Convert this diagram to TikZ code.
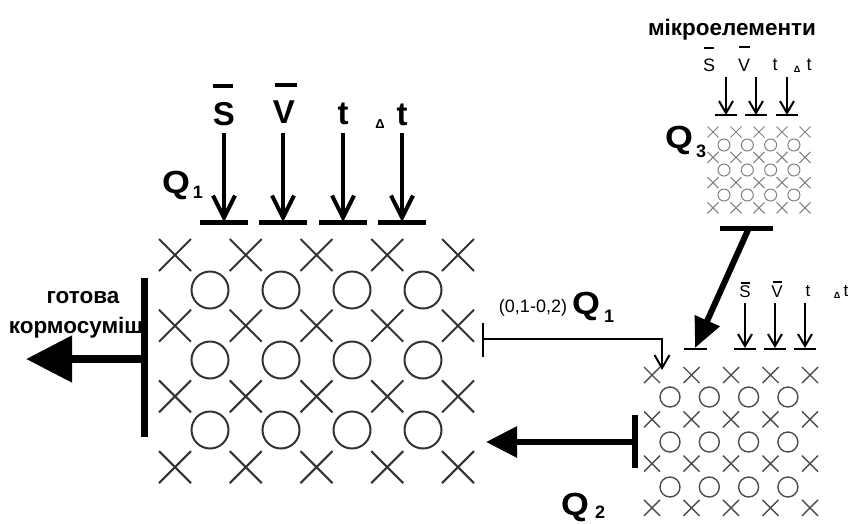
\documentclass[tikz,border=0pt]{standalone}
\usepackage{fontspec}
\usepackage{graphicx}
\setmainfont{Liberation Sans}
\usetikzlibrary{arrows.meta}
\newcommand{\myfs}[1]{\fontsize{#1}{#1}\selectfont}
\newcommand{\wideQ}{\scalebox{1.12}[1]{Q}}
\begin{document}
\begin{tikzpicture}[x=1pt,y=-1pt,
  bigx/.style={line width=2pt, draw=black!80},
  midx/.style={line width=1.4pt, draw=black!70},
  smx/.style={line width=1pt, draw=black!50},
  lbl/.style={inner sep=0pt, anchor=base},
  bigl/.style={lbl, font=\myfs{33}\bfseries},
  qf/.style={lbl, font=\myfs{32}\bfseries},
  subf/.style={lbl, font=\myfs{18}\bfseries},
  word/.style={lbl, font=\myfs{22.5}\bfseries},
  downbig/.style={line width=4pt, -{Straight Barb[length=22pt,width=22pt]}},
  downsm/.style={line width=2pt, -{Straight Barb[length=12pt,width=14pt]}},
  thickbar/.style={line width=5pt},
  thinbar/.style={line width=2pt},
  ]
\useasboundingbox (0,0) rectangle (851,523);

% ---------- big grid ----------
\foreach \c in {0,...,4}{\foreach \r in {0,...,3}{
  \pgfmathsetmacro\xx{175+70.75*\c}\pgfmathsetmacro\yy{255+70.7*\r}
  \draw[bigx] (\xx-16,\yy-16) -- ++(32,32) (\xx-16,\yy+16) -- ++(32,-32);}}
\foreach \c in {0,...,3}{\foreach \r in {0,...,2}{
  \pgfmathsetmacro\xx{210+71*\c}\pgfmathsetmacro\yy{290+70*\r}
  \draw[bigx] (\xx,\yy) circle[radius=18.5pt];}}

% top inputs of big grid
\node[bigl] (S1) at (224,125) {S};
\node[bigl] (V1) at (284,123) {V};
\node[bigl] (t1) at (343,124) {t};
\node[lbl, font=\myfs{13}\bfseries] (D1) at (380,128) {Δ};
\node[bigl] (tt1) at (402,125) {t};
\draw[line width=4pt] (213,86) -- (233,86);
\draw[line width=4pt] (275,85) -- (297,85);
\foreach \x/\n in {224/a,283/b,343/c,402/d}{
  \coordinate (top\n) at (\x,133);
  \coordinate (bar\n) at (\x,222);
  \draw[downbig] (top\n) -- (bar\n);
  \draw[thickbar] (\x-24,222) -- (\x+24,222);}
\node[qf] (Q1) at (176,193) {\wideQ};
\node[subf] (q1s) at (198,198) {1};

% left output
\coordinate (LbT) at (144,278);
\coordinate (LbB) at (144,437);
\coordinate (LbM) at (144,359);
\coordinate (Lout) at (26,359);
\draw[line width=7pt] (LbT) -- (LbB);
\draw[line width=8pt, -{Triangle[length=46pt,width=45pt]}] (LbM) -- (Lout);
\node[word] (g1) at (83,303) {готова};
\node[word] (g2) at (76,333) {кормосуміш};

% ---------- small grid (top right) ----------
\node[word] (mk) at (732,35) {мікроелементи};
\foreach \c in {0,...,4}{\foreach \r in {0,...,3}{
  \pgfmathsetmacro\xx{713+23*\c}\pgfmathsetmacro\yy{132+25.3*\r}
  \draw[smx] (\xx-5.5,\yy-5.5) -- ++(11,11) (\xx-5.5,\yy+5.5) -- ++(11,-11);}}
\foreach \c in {0,...,3}{\foreach \r in {0,...,2}{
  \pgfmathsetmacro\xx{724+23.3*\c}\pgfmathsetmacro\yy{145+25*\r}
  \draw[smx] (\xx,\yy) circle[radius=6pt];}}
\node[lbl, font=\myfs{18}] (S3) at (709,71) {S};
\node[lbl, font=\myfs{18}] (V3) at (744,71) {V};
\node[lbl, font=\myfs{18}] (t3) at (775,70) {t};
\node[lbl, font=\myfs{9}\bfseries] (D3) at (797,72) {Δ};
\node[lbl, font=\myfs{18}] (tt3) at (809,70) {t};
\draw[thinbar] (704,48) -- (714,48);
\draw[thinbar] (739,47) -- (750,47);
\foreach \x/\n in {726/a,756/b,787/c}{
  \coordinate (st\n) at (\x,77);
  \coordinate (sb\n) at (\x,115);
  \draw[downsm] (st\n) -- (sb\n);
  \draw[thinbar] (\x-11,115) -- (\x+11,115);}
\node[qf] (Q3) at (679,148) {\wideQ};
\node[subf] (q3s) at (701,157) {3};
\coordinate (b3L) at (720,228);
\coordinate (b3R) at (773,228);
\coordinate (b3M) at (748,230);
\draw[thickbar] (b3L) -- (b3R);

% ---------- lower right grid ----------
\foreach \c in {0,...,4}{\foreach \r in {0,...,3}{
  \pgfmathsetmacro\xx{652+39.5*\c}\pgfmathsetmacro\yy{375+44.3*\r}
  \draw[midx] (\xx-8,\yy-8) -- ++(16,16) (\xx-8,\yy+8) -- ++(16,-16);}}
\foreach \c in {0,...,3}{\foreach \r in {0,...,2}{
  \pgfmathsetmacro\xx{670+39.3*\c}\pgfmathsetmacro\yy{397+45*\r}
  \draw[midx] (\xx,\yy) circle[radius=10pt];}}
\node[lbl, font=\myfs{17}] (S2) at (745,297) {S};
\node[lbl, font=\myfs{17}] (V2) at (777,297) {V};
\node[lbl, font=\myfs{17}] (t2) at (808,296) {t};
\node[lbl, font=\myfs{9}\bfseries] (D2) at (837,298) {Δ};
\node[lbl, font=\myfs{17}] (tt2) at (846,296) {t};
\draw[thinbar] (741,283) -- (750,283);
\draw[thinbar] (773,282) -- (782,282);
\foreach \x/\n in {745/a,775/b,805/c}{
  \coordinate (lt\n) at (\x,303);
  \coordinate (lb\n) at (\x,348);
  \draw[downsm] (lt\n) -- (lb\n);
  \draw[thinbar] (\x-11,349) -- (\x+11,349);}
\coordinate (dtip) at (695,348);
\draw[thinbar] (684,349) -- (707,349);
\draw[line width=6pt, -{Triangle[length=30pt,width=26pt]}] (b3M) -- (dtip);

% Q1 recycle connector
\coordinate (rT) at (483,323);
\coordinate (rB) at (483,357);
\coordinate (rM) at (483,339);
\coordinate (rC) at (662,339);
\coordinate (rE) at (662,370);
\draw[thinbar] (rT) -- (rB);
\draw[thinbar, -{Straight Barb[length=13pt,width=15pt]}] (rM) -- (rC) -- (rE);
\node[lbl, font=\myfs{18}] (frac) at (533,312) {(0,1-0,2)};
\node[qf] (Q1b) at (586,314) {\wideQ};
\node[subf] (q1bs) at (609,322) {1};

% Q2 return
\coordinate (q2T) at (635,415);
\coordinate (q2B) at (635,468);
\coordinate (q2M) at (635,442);
\coordinate (q2E) at (486,442);
\draw[line width=6pt] (q2T) -- (q2B);
\draw[line width=6pt, -{Triangle[length=31pt,width=30pt]}] (q2M) -- (q2E);
\node[qf] (Q2) at (575,515) {\wideQ};
\node[subf] (q2s) at (600,518) {2};
\end{tikzpicture}
\end{document}
